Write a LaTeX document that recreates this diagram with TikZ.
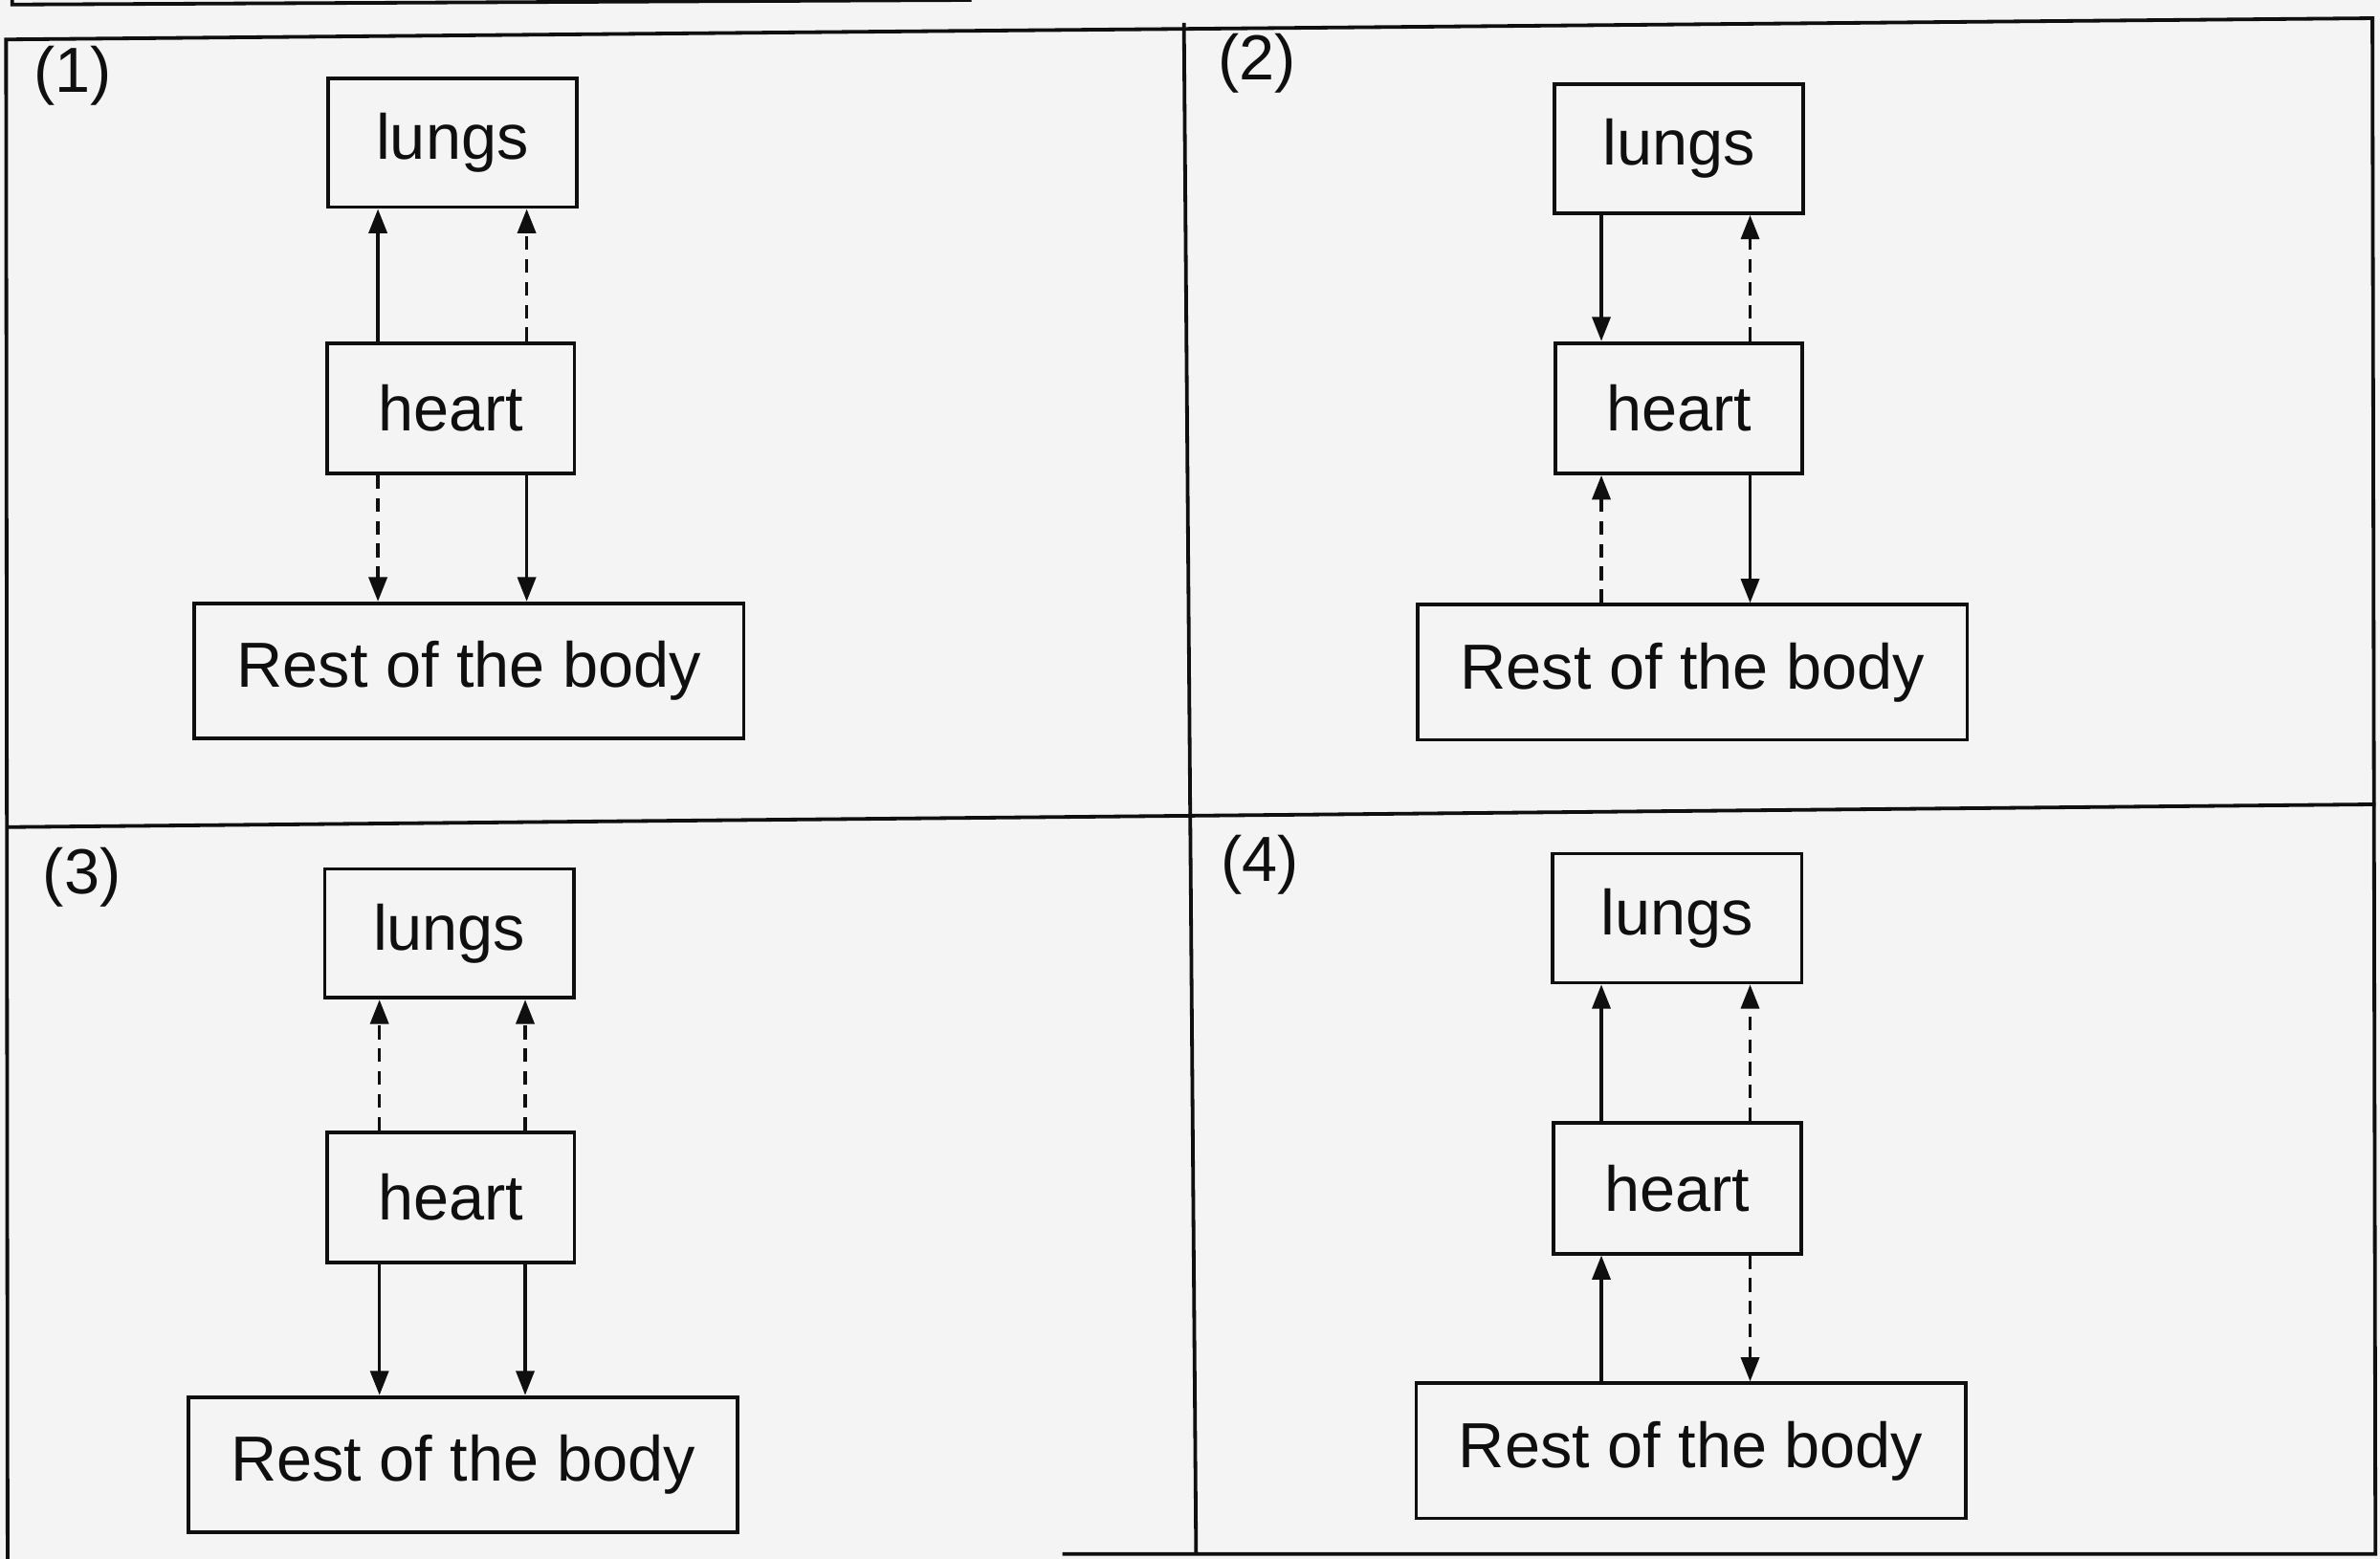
\documentclass[tikz,border=0pt]{standalone}
\usepackage{fontspec}
\setmainfont{Liberation Sans}
\usetikzlibrary{arrows.meta}
\definecolor{paper}{RGB}{244,244,244}
\definecolor{ink}{RGB}{15,15,15}
\begin{document}
\begin{tikzpicture}[x=1pt,y=-1pt,
  grid/.style={draw=ink, line width=2.4pt},
  box/.style={draw=ink, line width=2.4pt, inner sep=0pt, text=ink, font=\fontsize{42}{48}\selectfont},
  lungsbox/.style={box, minimum width=164pt, minimum height=85pt},
  heartbox/.style={box, minimum width=163pt, minimum height=86pt},
  restbox/.style={box, minimum width=362pt, minimum height=89pt},
  plabel/.style={inner sep=0pt, text=ink, font=\fontsize{42}{48}\selectfont},
  flow/.style={draw=ink, line width=2.2pt, -{Triangle[length=16pt,width=12pt]}},
  dflow/.style={flow, dash pattern=on 9pt off 6pt}
]
\fill[paper] (0,0) rectangle (1568,1027);
\useasboundingbox (0,0) rectangle (1568,1027);

% partial box above
\draw[grid] (8,-2) -- (8,3) -- (640,0);
% outer grid
\draw[grid] (5,1030) -- (4,26) -- (1563,12) -- (1565,1024) -- (700,1024);
\draw[grid] (780,15) -- (788,1024);
\draw[grid] (5,545) -- (1565,530);

% ---------- panel 1
\node[plabel] (p1) at (48,50) {(1)};
\node[lungsbox] (l1) at (298,94) {lungs};
\node[heartbox] (h1) at (297,269) {heart};
\node[restbox] (r1) at (309,442) {Rest of the body};
\draw[flow]  ([xshift=-48pt]h1.north) -- ([xshift=-48pt]h1.north |- l1.south);
\draw[dflow] ([xshift=50pt]h1.north) -- ([xshift=50pt]h1.north |- l1.south);
\draw[dflow] ([xshift=-48pt]h1.south) -- ([xshift=-48pt]h1.south |- r1.north);
\draw[flow]  ([xshift=50pt]h1.south) -- ([xshift=50pt]h1.south |- r1.north);

% ---------- panel 2
\node[plabel] (p2) at (828,42) {(2)};
\node[lungsbox] (l2) at (1106,98) {lungs};
\node[heartbox] (h2) at (1106,269) {heart};
\node[restbox] (r2) at (1115,443) {Rest of the body};
\draw[flow]  ([xshift=-51pt]l2.south) -- ([xshift=-51pt]l2.south |- h2.north);
\draw[dflow] ([xshift=47pt]h2.north) -- ([xshift=47pt]h2.north |- l2.south);
\draw[dflow] ([xshift=-51pt]h2.south |- r2.north) -- ([xshift=-51pt]h2.south);
\draw[flow]  ([xshift=47pt]h2.south) -- ([xshift=47pt]h2.south |- r2.north);

% ---------- panel 3
\node[plabel] (p3) at (54,578) {(3)};
\node[lungsbox] (l3) at (296,615) {lungs};
\node[heartbox] (h3) at (297,789) {heart};
\node[restbox] (r3) at (305,965) {Rest of the body};
\draw[dflow] ([xshift=-47pt]h3.north) -- ([xshift=-47pt]h3.north |- l3.south);
\draw[dflow] ([xshift=49pt]h3.north) -- ([xshift=49pt]h3.north |- l3.south);
\draw[flow]  ([xshift=-47pt]h3.south) -- ([xshift=-47pt]h3.south |- r3.north);
\draw[flow]  ([xshift=49pt]h3.south) -- ([xshift=49pt]h3.south |- r3.north);

% ---------- panel 4
\node[plabel] (p4) at (830,570) {(4)};
\node[lungsbox] (l4) at (1105,605) {lungs};
\node[heartbox] (h4) at (1105,783) {heart};
\node[restbox] (r4) at (1114,956) {Rest of the body};
\draw[flow]  ([xshift=-50pt]h4.north) -- ([xshift=-50pt]h4.north |- l4.south);
\draw[dflow] ([xshift=48pt]h4.north) -- ([xshift=48pt]h4.north |- l4.south);
\draw[flow]  ([xshift=-50pt]h4.south |- r4.north) -- ([xshift=-50pt]h4.south);
\draw[dflow] ([xshift=48pt]h4.south) -- ([xshift=48pt]h4.south |- r4.north);
\end{tikzpicture}
\end{document}
